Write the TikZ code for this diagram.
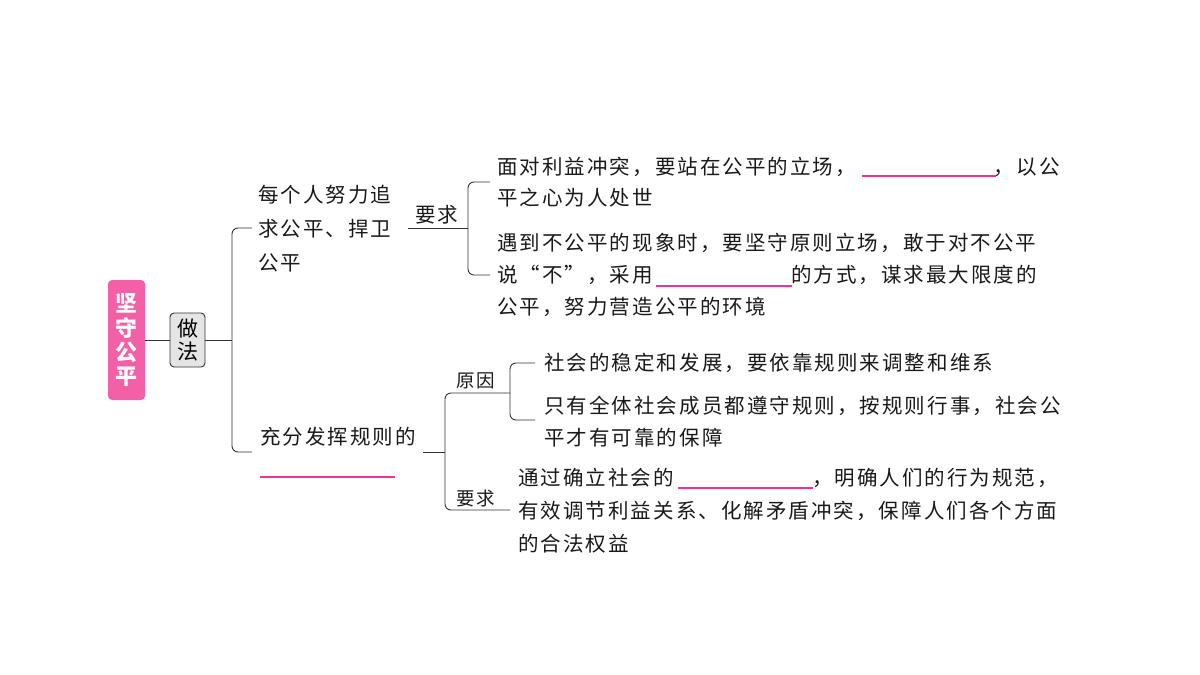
\documentclass[tikz,border=0pt]{standalone}
\usepackage{fontspec}
\setmainfont[LetterSpace=10]{Noto Sans CJK SC}
\newfontfamily\plainfont{Noto Sans CJK SC}
\begin{document}
\begin{tikzpicture}[x=1pt,y=-1pt,
  t/.style={anchor=west,inner sep=0pt,font=\fontsize{20.5}{24}\selectfont,text=black!90},
  ln/.style={draw=black!80,line width=0.9pt,rounded corners=6pt},
  blank/.style={draw=magenta!75!pink,line width=1.1pt}]
\useasboundingbox (0,0) rectangle (1200,675);
\node[fill=magenta!60!pink!90,rounded corners=4pt,minimum width=37pt,minimum height=120pt,inner sep=0pt] (root) at (126.5,340)
  {\plainfont\shortstack{\textcolor{white}{\fontsize{22}{26}\selectfont\bfseries 坚}\\[1pt]\textcolor{white}{\fontsize{22}{26}\selectfont\bfseries 守}\\[1pt]\textcolor{white}{\fontsize{22}{26}\selectfont\bfseries 公}\\[1pt]\textcolor{white}{\fontsize{22}{26}\selectfont\bfseries 平}}};
\node[draw=black!80,fill=black!10,rounded corners=4pt,minimum width=35pt,minimum height=54pt,inner sep=0pt,line width=0.9pt] (zf) at (187.5,340)
  {\plainfont\shortstack{\fontsize{21}{24}\selectfont 做\\\fontsize{21}{24}\selectfont 法}};
\coordinate (tr) at (232,340);
\draw[ln] (root.east) -- (zf.west);
\draw[ln] (zf.east) -- (tr);
\coordinate (b1) at (252,228);
\coordinate (b2) at (252,452);
\draw[ln] (b1) -| (tr) |- (b2);
% branch 1
\node[t] (a1) at (258,195) {每个人努力追};
\node[t] (a2) at (258,229) {求公平、捍卫};
\node[t] (a3) at (258,263) {公平};
\node[t] (yq1) at (415,215) {要求};
\coordinate (y1s) at (408,228);
\coordinate (y1e) at (468,228);
\draw[ln,rounded corners=0pt] (y1s) -- (y1e);
\coordinate (c1) at (490,182);
\coordinate (c2) at (490,275);
\draw[ln] (c1) -| (y1e) |- (c2);
\node[t] (r1) at (497,167) {面对利益冲突，要站在公平的立场，\hspace{138pt}，以公};
\node[t] (r2) at (497,198) {平之心为人处世};
\node[t] (r3) at (497,243) {遇到不公平的现象时，要坚守原则立场，敢于对不公平};
\node[t] (r4) at (497,275) {说“不”，采用\hspace{138pt}的方式，谋求最大限度的};
\node[t] (r5) at (497,307) {公平，努力营造公平的环境};
\coordinate (k1a) at (862,176); \coordinate (k1b) at (996,176);
\draw[blank] (k1a) -- (k1b);
\coordinate (k2a) at (656,286); \coordinate (k2b) at (792,286);
\draw[blank] (k2a) -- (k2b);
% branch 2
\node[t] (b2t) at (260,437) {充分发挥规则的};
\coordinate (k3a) at (260,477); \coordinate (k3b) at (395,477);
\draw[blank] (k3a) -- (k3b);
\coordinate (d1) at (423,452); \coordinate (d2) at (445,452);
\draw[ln,rounded corners=0pt] (d1) -- (d2);
\coordinate (e1) at (510,393); \coordinate (e2) at (510,510);
\draw[ln] (e1) -| (d2) |- (e2);
\node[t,font=\fontsize{18.5}{22}\selectfont] (yy) at (456,381) {原因};
\node[t,font=\fontsize{18.5}{22}\selectfont] (yq2) at (456,498) {要求};
\coordinate (f1) at (535,363); \coordinate (f2) at (535,420);
\draw[ln] (f1) -| (e1) |- (f2);
\node[t] (s1) at (544,363) {社会的稳定和发展，要依靠规则来调整和维系};
\node[t] (s2) at (544,406) {只有全体社会成员都遵守规则，按规则行事，社会公};
\node[t] (s3) at (544,438) {平才有可靠的保障};
\node[t] (u1) at (518,478) {通过确立社会的\hspace{138pt}，明确人们的行为规范，};
\node[t] (u2) at (518,511) {有效调节利益关系、化解矛盾冲突，保障人们各个方面};
\node[t] (u3) at (518,544) {的合法权益};
\coordinate (k4a) at (678,488); \coordinate (k4b) at (813,488);
\draw[blank] (k4a) -- (k4b);
\end{tikzpicture}
\end{document}
